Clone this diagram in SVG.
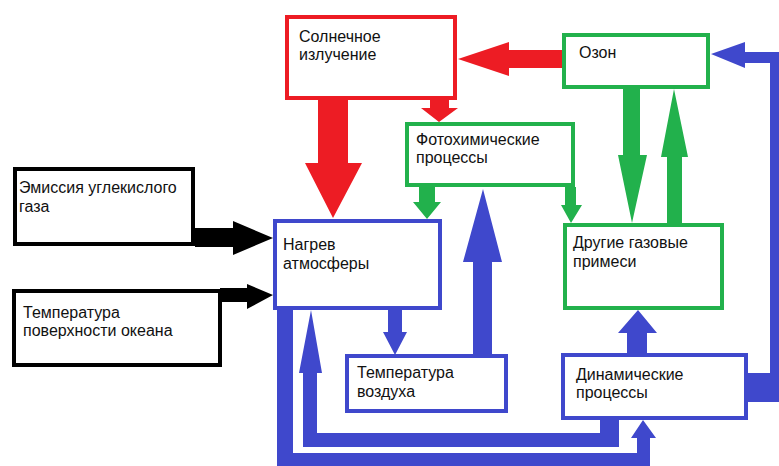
<svg xmlns="http://www.w3.org/2000/svg" width="779" height="466" viewBox="0 0 779 466">
<style>
.box{fill:#fff;stroke-width:4}
.r{stroke:#ED1C24}.g{stroke:#22B14C}.b{stroke:#3F48CC}.k{stroke:#000}
.fr{fill:#ED1C24}.fg{fill:#22B14C}.fb{fill:#3F48CC}.fk{fill:#000}
text{font-family:"Liberation Sans",Arial,sans-serif;font-size:16px;fill:#111}
</style>
<rect width="779" height="466" fill="#fff"/>
<g id="connectors">
  <!-- red -->
  <polygon class="fr" points="562,50 509,50 509,42 458,59 509,76 509,68 562,68"/>
  <polygon class="fr" points="318,100 348,100 348,163 362,163 333,218 305,163 318,163"/>
  <polygon class="fr" points="430,100 449,100 449,108 458,108 439,122 421,108 430,108"/>
  <!-- green -->
  <polygon class="fg" points="419,187 435,187 435,202 441,202 427,219 413,202 419,202"/>
  <polygon class="fg" points="565,187 576,187 576,205 582,205 571,223 561,205 565,205"/>
  <polygon class="fg" points="623,89 640,89 640,155 647,155 632,223 618,155 623,155"/>
  <polygon class="fg" points="667,223 682,223 682,157 688,157 674,89 661,157 667,157"/>
  <!-- black -->
  <polygon class="fk" points="195,228 233,228 233,221 273,238 233,255 233,247 195,247"/>
  <polygon class="fk" points="220,288 247,288 247,284 273,295 247,309 247,302 220,302"/>
  <!-- blue -->
  <polygon class="fb" points="388,310 402,310 402,332 407,332 395,355 383,332 388,332"/>
  <polygon class="fb" points="473,354 492,354 492,262 502,262 483,189 463,262 473,262"/>
  <polygon class="fb" points="627,355 647,355 647,333 657,333 638,310 618,333 627,333"/>
  <polygon class="fb" points="748,373 770,373 770,63 745,63 745,68 711,54 745,42 745,52 790,52 790,402 748,402"/>
  <polygon class="fb" points="600,420 619,420 619,447 303,447 303,373 299,373 311,310 322,373 317,373 317,433 600,433"/>
  <polygon class="fb" points="277,310 293,310 293,453 637,453 637,438 631,438 643,420 656,438 650,438 650,470 277,470"/>
</g>
<g id="solar"><rect class="box r" x="287" y="17" width="168" height="81"/><text x="299" y="42">Солнечное</text><text x="299" y="60">излучение</text></g>
<g id="ozone"><rect class="box g" x="564" y="35" width="144" height="52"/><text x="579" y="58">Озон</text></g>
<g id="photo"><rect class="box g" x="407" y="124" width="166" height="61"/><text x="416" y="145">Фотохимические</text><text x="416" y="163">процессы</text></g>
<g id="emission"><rect class="box k" x="15" y="169" width="178" height="75"/><text x="19" y="193">Эмиссия углекислого</text><text x="19" y="212">газа</text></g>
<g id="ocean"><rect class="box k" x="14" y="291" width="206" height="74"/><text x="23" y="318">Температура</text><text x="23" y="336">поверхности океана</text></g>
<g id="heating"><rect class="box b" x="275" y="221" width="165" height="87"/><text x="283" y="250">Нагрев</text><text x="283" y="269">атмосферы</text></g>
<g id="airtemp"><rect class="box b" x="347" y="356" width="159" height="55"/><text x="357" y="378">Температура</text><text x="357" y="397">воздуха</text></g>
<g id="gases"><rect class="box g" x="565" y="225" width="157" height="83"/><text x="573" y="248">Другие газовые</text><text x="573" y="267">примеси</text></g>
<g id="dynamic"><rect class="box b" x="563" y="355" width="183" height="63"/><text x="576" y="380">Динамические</text><text x="576" y="398">процессы</text></g>
</svg>
